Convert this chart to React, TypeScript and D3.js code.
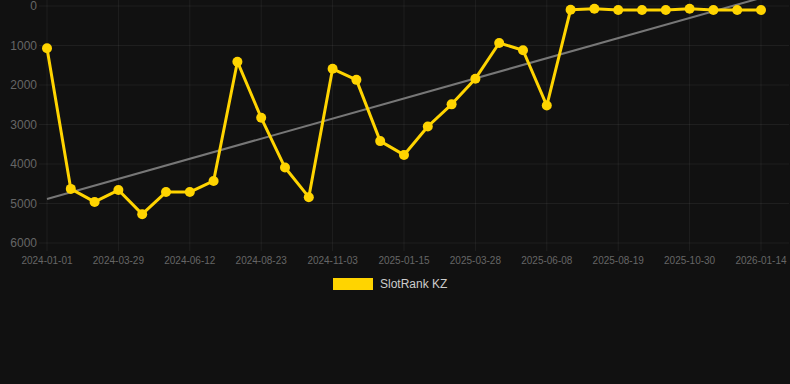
import React from "react";
import * as d3 from "d3";

const dates = [
  "2024-01-01", "2024-01-30", "2024-02-28", "2024-03-29", "2024-04-23", "2024-05-18",
  "2024-06-12", "2024-07-06", "2024-07-30", "2024-08-23", "2024-09-16", "2024-10-10",
  "2024-11-03", "2024-11-27", "2024-12-22", "2025-01-15", "2025-02-08", "2025-03-04",
  "2025-03-28", "2025-04-21", "2025-05-15", "2025-06-08", "2025-07-02", "2025-07-26",
  "2025-08-19", "2025-09-12", "2025-10-06", "2025-10-30", "2025-11-23", "2025-12-18",
  "2026-01-14",
];

const rankValues = [
  1070, 4630, 4960, 4660, 5270, 4710, 4710, 4430, 1410, 2830, 4090, 4840, 1590, 1870,
  3420, 3770, 3050, 2490, 1840, 937, 1120, 2520, 93, 68, 100, 100, 100, 68, 100, 100, 100,
];

// trend line endpoints (first and last category)
const trendValues = [4886, -205];

const yTicks = [0, 1000, 2000, 3000, 4000, 5000, 6000];
const seriesName = "SlotRank KZ";

const W = 790;
const H = 384;
const left = 47;
const right = 761;
const top = 6;
const bottom = 243;

export default function App() {
  const x = d3.scalePoint<number>().domain(dates.map((_, i) => i)).range([left, right]);
  const y = d3.scaleLinear().domain([0, 6000]).range([top, bottom]);

  const n = rankValues.length;
  const trend = [
    { i: 0, v: trendValues[0] },
    { i: n - 1, v: trendValues[1] },
  ];

  const line = d3.line<number>().x((_, i) => x(i) as number).y((v) => y(v));
  const tline = d3.line<{ i: number; v: number }>().x((d) => x(d.i) as number).y((d) => y(d.v));

  const xTickIdx = dates.map((_, i) => i).filter((i) => i % 3 === 0);
  const grid = "rgba(255,255,255,0.06)";

  return (
    <svg width={W} height={H} style={{ position: "fixed", left: 0, top: 0 }} fontFamily="Liberation Sans, Arial, sans-serif">
      <rect x={0} y={0} width={W} height={H} fill="#111111" />
      {yTicks.map((t) => (
        <g key={t}>
          <line x1={left - 8} x2={right + 28} y1={y(t)} y2={y(t)} stroke={grid} />
          <text x={37} y={y(t)} dy="0.35em" textAnchor="end" fontSize={12} fill="#666">{t}</text>
        </g>
      ))}
      {xTickIdx.map((i) => (
        <g key={i}>
          <line x1={x(i)} x2={x(i)} y1={0} y2={bottom + 8} stroke={grid} />
          <text x={x(i)} y={260} dy="0.35em" textAnchor="middle" fontSize={10} fill="#666">{dates[i]}</text>
        </g>
      ))}
      <path d={tline(trend) as string} fill="none" stroke="#777" strokeWidth={2} />
      <path d={line(rankValues) as string} fill="none" stroke="#FFD400" strokeWidth={3} strokeLinejoin="round" />
      {rankValues.map((v, i) => (
        <circle key={i} cx={x(i)} cy={y(v)} r={5} fill="#FFD400" />
      ))}
      <rect x={333} y={278} width={40} height={12} fill="#FFD400" />
      <text x={380} y={284} dy="0.35em" fontSize={12} fill="#cccccc">{seriesName}</text>
    </svg>
  );
}
